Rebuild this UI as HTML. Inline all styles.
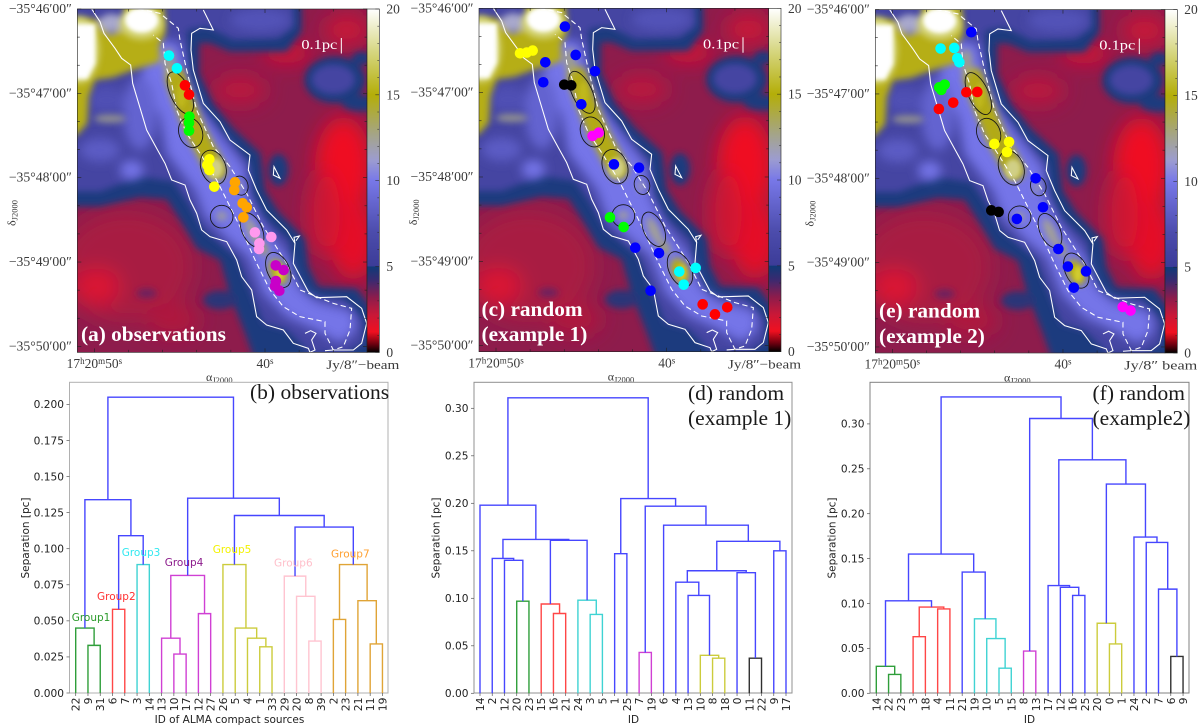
<!DOCTYPE html>
<html lang="en"><head><meta charset="utf-8"><title>Clustering of ALMA compact sources</title>
<style>
html,body{margin:0;padding:0;background:#fff;width:1200px;height:726px;overflow:hidden}
svg{display:block}
.serif{font-family:"Liberation Serif",serif}
.sans{font-family:"DejaVu Sans",sans-serif}
</style></head><body>
<svg id="fig" width="1200" height="726" viewBox="0 0 1200 726" xmlns="http://www.w3.org/2000/svg">
<defs>
<clipPath id="mapclip"><rect x="232" y="27" width="869" height="1030"/></clipPath>
<filter id="b6" filterUnits="userSpaceOnUse" x="0" y="-200" width="1400" height="1500"><feGaussianBlur stdDeviation="6"/></filter>
<filter id="b10" filterUnits="userSpaceOnUse" x="0" y="-200" width="1400" height="1500"><feGaussianBlur stdDeviation="10"/></filter>
<filter id="b16" filterUnits="userSpaceOnUse" x="0" y="-200" width="1400" height="1500"><feGaussianBlur stdDeviation="16"/></filter>
<filter id="b30" filterUnits="userSpaceOnUse" x="0" y="-200" width="1400" height="1500"><feGaussianBlur stdDeviation="30"/></filter>
<linearGradient id="cbar" x1="0" y1="1" x2="0" y2="0"></linearGradient>
<g id="map" clip-path="url(#mapclip)">
 <rect x="150" y="-50" width="1050" height="1200" fill="#8e1c4c"/>
 <g filter="url(#b30)">
  <ellipse cx="380" cy="800" rx="200" ry="170" fill="#a81a42"/>
  <ellipse cx="290" cy="860" rx="70" ry="55" fill="#dc1230"/>
  <ellipse cx="520" cy="960" rx="80" ry="50" fill="#b0183c"/>
  <ellipse cx="1030" cy="500" rx="85" ry="150" fill="#f00f22"/>
  <ellipse cx="1060" cy="720" rx="70" ry="120" fill="#e61028"/>
  <ellipse cx="970" cy="640" rx="50" ry="130" fill="#cc1434"/>
  <ellipse cx="860" cy="160" rx="75" ry="30" fill="#d81030"/>
  <ellipse cx="720" cy="270" rx="80" ry="45" fill="#bc183c"/>
  <ellipse cx="1040" cy="90" rx="70" ry="50" fill="#c81838"/>
  <ellipse cx="1090" cy="990" rx="35" ry="60" fill="#cc1434"/>
 </g>
 <g filter="url(#b10)" fill="#1a3a7e">
  <polygon points="150,-50 905,-50 905,95 860,155 690,155 630,130 598,130 598,220 640,310 700,385 782,460 795,570 835,635 915,715 925,800 955,860 1070,865 1135,950 1135,1100 770,1100 735,1000 690,885 660,780 590,745 540,660 500,598 420,592 300,620 150,620"/>
  <ellipse cx="1005" cy="240" rx="92" ry="70"/>
  <ellipse cx="1085" cy="310" rx="60" ry="24"/>
  <ellipse cx="660" cy="900" rx="50" ry="28" fill="#2a3678"/>
  <ellipse cx="835" cy="510" rx="30" ry="48"/>
  <ellipse cx="1085" cy="175" rx="30" ry="20"/>
  <ellipse cx="440" cy="880" rx="30" ry="14" fill="#6a2460"/>
 </g>
 <g filter="url(#b10)" fill="#4444a2">
  <polygon points="150,-50 880,-50 880,80 835,115 700,120 620,80 562,90 562,220 602,320 662,395 745,485 755,580 790,650 870,725 870,800 920,890 1030,895 1090,960 1090,1030 1040,1060 930,1060 860,990 790,970 745,860 710,770 660,730 610,690 565,610 520,545 420,530 300,575 150,575"/>
  <ellipse cx="1000" cy="238" rx="65" ry="45"/>
 </g>
 <g filter="url(#b16)" fill="#7474e8">
  <polygon points="440,110 540,130 565,240 605,330 675,425 735,500 745,590 790,680 865,770 895,860 950,905 1050,930 1070,990 1020,1030 950,990 860,950 790,880 745,770 680,715 615,650 585,570 500,460 480,340 420,250"/>
  <ellipse cx="320" cy="300" rx="60" ry="40" fill="#5050b4"/>
  <ellipse cx="395" cy="510" rx="35" ry="28"/>
  <ellipse cx="300" cy="450" rx="60" ry="35" fill="#5c5cc4"/>
  <ellipse cx="420" cy="340" rx="50" ry="110" fill="#6464d0"/>
  <ellipse cx="1020" cy="960" rx="45" ry="35"/>
  <ellipse cx="780" cy="60" rx="90" ry="34" fill="#5252b8"/>
 </g>
 <g filter="url(#b10)">
  <polygon points="150,50 296,58 330,105 372,80 372,-50 488,-50 496,100 478,135 480,185 400,210 340,232 285,240 266,290 262,370 232,405 150,412" fill="#b6ae18"/>
  <polyline points="525,230 548,295 590,400 650,510" fill="none" stroke="#b2aa18" stroke-width="60" stroke-linecap="round"/>
  <ellipse cx="835" cy="815" rx="24" ry="40" fill="#b8b010" transform="rotate(-25 835 815)"/>
  <ellipse cx="505" cy="185" rx="18" ry="40" fill="#a8a67a" opacity=".8"/>
  <ellipse cx="665" cy="648" rx="16" ry="13" fill="#a8a68c" opacity=".85"/>
  <ellipse cx="758" cy="695" rx="15" ry="45" fill="#a8a68c" opacity=".9" transform="rotate(-25 758 695)"/>
  <ellipse cx="790" cy="745" rx="12" ry="24" fill="#b0ac50" opacity=".8" transform="rotate(-25 790 745)"/>
  <ellipse cx="718" cy="560" rx="10" ry="18" fill="#a4a2a0" opacity=".8"/>
  <ellipse cx="330" cy="356" rx="48" ry="12" fill="#a8a68c" opacity=".8"/>
  <ellipse cx="335" cy="68" rx="38" ry="26" fill="#a8a8cc"/>
 </g>
 <g filter="url(#b6)">
  <ellipse cx="645" cy="505" rx="24" ry="30" fill="#d0cf86"/>
  <ellipse cx="545" cy="285" rx="14" ry="38" fill="#c0b81e"/>
  <ellipse cx="840" cy="820" rx="13" ry="24" fill="#d2cc30"/>
 </g>
 <g filter="url(#b10)" fill="#d6d67c">
  <ellipse cx="238" cy="150" rx="60" ry="100"/>
  <ellipse cx="425" cy="70" rx="66" ry="48"/>
 </g>
 <g filter="url(#b6)" fill="#ffffff">
  <polygon points="150,72 286,72 286,190 262,237 150,237"/>
  <ellipse cx="425" cy="60" rx="50" ry="38"/>
 </g>
 <g fill="none" stroke="#ffffff" stroke-width="3.2">
  <polyline points="275,27 300,65 312,100 345,145 365,175 392,195 398,250 410,290 425,340 440,390 470,445 495,490 515,540 555,555 570,600 590,640 605,690 630,710 680,725 710,780 725,830 755,870 770,950 800,975 850,990 880,1030 925,1045 930,1057"/>
  <polyline points="610,30 640,90 600,85 575,100 573,150 580,210 610,310 660,365 690,420 750,465 745,510 770,570 800,630 860,690 885,730 880,790 925,875 950,893 1040,890 1085,925 1100,970 1085,1030 1060,1050 1000,1050 975,1052"/>
  <polygon points="822,500 840,535 820,525"/>
  <polyline points="885,730 882,712 898,708 888,722"/>
  <polyline points="915,1000 932,992 948,1000 935,1020 945,1050 930,1057"/>
  <g stroke-dasharray="16 10">
   <polyline points="415,27 480,40 535,85 540,120 560,210 590,330 640,440 690,500 740,580 790,680 860,790 900,870 1000,910 1055,925 1050,990 1030,1040 1000,1050 975,1000 975,965 900,950 850,920 810,870 770,790 720,680 680,600 650,540 600,460 560,400 530,330 515,250 495,190 490,130 460,105"/>
  </g>
 </g>
 <g fill="none" stroke="#151515" stroke-width="2.6">
  <ellipse cx="541" cy="279" rx="30" ry="68" transform="rotate(-25 541 279)"/>
  <ellipse cx="572" cy="398" rx="35" ry="46" transform="rotate(-20 572 398)"/>
  <ellipse cx="640" cy="502" rx="37" ry="53" transform="rotate(-20 640 502)"/>
  <ellipse cx="721" cy="557" rx="23" ry="29" transform="rotate(-15 721 557)"/>
  <ellipse cx="665" cy="650" rx="34" ry="34"/>
  <ellipse cx="756" cy="690" rx="30" ry="55" transform="rotate(-25 756 690)"/>
  <ellipse cx="835" cy="810" rx="33" ry="56" transform="rotate(-25 835 810)"/>
 </g>
</g>
</defs>

<g id="mapA"><use href="#map" transform="translate(77.33,9) scale(.33333) translate(-232,-27)"/></g>
<g id="mapC"><use href="#map" transform="translate(479,8.3) scale(.33333) translate(-232,-27)"/></g>
<g id="mapE"><use href="#map" transform="translate(875.3,9.6) scale(.33333) translate(-232,-27)"/></g>
<g id="overlay"></g>

<g class="serif" font-weight="bold" font-size="21.3" fill="#fff">
 <text x="81" y="341">(a) observations</text>
 <text x="481.5" y="316">(c) random</text>
 <text x="481.5" y="341">(example 1)</text>
 <text x="879" y="317.5">(e) random</text>
 <text x="879" y="343">(example 2)</text>
</g>

<g id="dendros"></g>

<g class="serif" font-size="21.5" fill="#1a1a1a">
 <text x="250" y="399">(b) observations</text>
 <text x="688" y="400">(d) random</text>
 <text x="688" y="425">(example 1)</text>
 <text x="1092.5" y="400">(f) random</text>
 <text x="1092.5" y="425">(example2)</text>
</g>

<g class="sans" font-size="10.5">
 <text x="71.7" y="621" fill="#2a9a2a">Group1</text>
 <text x="97" y="600" fill="#ff3030">Group2</text>
 <text x="121.7" y="556" fill="#30e8f0">Group3</text>
 <text x="164.7" y="566" fill="#8b1a8b">Group4</text>
 <text x="212.7" y="553" fill="#f2f200">Group5</text>
 <text x="274" y="566.7" fill="#ffc0cb">Group6</text>
 <text x="331" y="557.7" fill="#ffa030">Group7</text>
</g>
</svg>

<script>
// ---- colour legend values ----
const cbarValues = [0, 0.5, 1.2, 2.2, 3.2, 4.2, 5, 5.02, 7, 10, 11.2, 12.6, 15, 17.5, 20];
const cbarColors = ['#000000', '#700010', '#f01020', '#c81838', '#8c1c4c', '#3a2a70', '#0f3a78', '#3c3c98', '#4c4cac', '#7878e8', '#9c9cd0', '#a4a48c', '#b4ae08', '#d6d680', '#ffffff'];
const cbarTicks = [0, 5, 10, 15, 20];
// ---- map axis tick labels ----
const decLabels = ['\u221235\u00b046\u203200\u2033', '\u221235\u00b047\u203200\u2033', '\u221235\u00b048\u203200\u2033', '\u221235\u00b049\u203200\u2033', '\u221235\u00b050\u203200\u2033'];
// ---- source positions: [RA seconds west of 17h20m50s, Dec arcsec south of -35d46m00s] ----
const obsCyan = [[4.375,33.2],[4.84,42.2]];
const obsRed = [[5.31,54.3],[5.55,60.9]];
const obsGreen = [[5.57,76.6],[5.55,80.9],[5.55,86.6]];
const obsYellow = [[6.74,106.9],[6.74,114.5],[6.62,111],[7.03,126.4]];
const obsOrange = [[8.24,123.3],[8.2,128.8],[8.69,138.2],[8.93,141.1],[8.73,148.2]];
const obsPink = [[9.41,158.9],[9.67,166.7],[9.65,170.7],[10.37,162.2]];
const obsMagenta = [[10.63,182.4],[11.09,185.7],[10.64,193.5],[10.59,197.1],[10.84,200.4]];
const r1Blue = [[4.04,13],[4.67,33.2],[2.89,38.4],[5.8,44.8],[2.77,52.6],[5,68.3],[6.91,111],[8.38,113.4],[8.16,170.3],[9.55,174.1],[9.06,200.9]];
const r1Yellow = [[1.41,32],[1.8,31.5],[2.15,30.1]];
const r1Black = [[4,54.3],[4.41,54.8]];
const r1Magenta = [[5.66,90.8],[6.02,88.5]];
const r1Green = [[6.68,148.7],[7.48,155.6]];
const r1Cyan = [[10.74,187.3],[11.7,184.7],[11,196.6]];
const r1Red = [[12.11,210.6],[13.55,212.7],[12.83,217.7]];
const r2Blue = [[4.63,16.1],[8.4,120],[8.83,140.6],[7.3,148.9],[9.73,170.3],[10.29,182.8],[11.35,186.2],[10.64,197.8]];
const r2Cyan = [[2.83,27.7],[3.63,27.3],[3.81,34.6],[3.93,37.5]];
const r2Green = [[3.07,53.4],[2.87,57.1],[2.75,55.3]];
const r2Red = [[4.34,58.8],[4.98,58.6],[3.57,66.2],[2.73,70.7]];
const r2Yellow = [[5.98,95.6],[6.84,94.1],[6.72,101.3]];
const r2Black = [[5.8,142.8],[6.23,143.9]];
const r2Magenta = [[13.5,211.5],[13.96,214.1]];
// ---- dendrogram data: leaf labels, and merges [child a, child b, separation, colour key] (ids >= leaves.length refer to earlier merges) ----
const leavesB = ['22','9','31','6','7','3','14','13','10','17','12','27','26','5','4','1','33','29','20','8','39','2','23','21','11','19'];
const mergesB = [[1,2,.033,'g'],[0,26,.045,'g'],[3,4,.058,'r'],[5,6,.089,'c'],[28,29,.109,'b'],[27,30,.134,'b'],[8,9,.027,'m'],[7,32,.038,'m'],[10,11,.055,'m'],[33,34,.0815,'m'],[15,16,.032,'y'],[14,36,.038,'y'],[13,37,.045,'y'],[12,38,.089,'y'],[19,20,.036,'p'],[18,40,.067,'p'],[17,41,.081,'p'],[21,22,.051,'o'],[24,25,.034,'o'],[23,44,.064,'o'],[43,45,.089,'o'],[42,46,.115,'b'],[39,47,.123,'b'],[35,48,.135,'b'],[31,49,.205,'b']];
const ticksB = [0,.025,.05,.075,.1,.125,.15,.175,.2];
const leavesD = ['14','2','12','20','23','15','16','21','24','3','5','1','25','7','19','6','4','13','10','8','18','0','11','22','9','17'];
const mergesD = [[3,4,.097,'g'],[2,26,.14,'b'],[1,27,.142,'b'],[6,7,.084,'r'],[5,29,.094,'r'],[9,10,.083,'c'],[8,31,.098,'c'],[30,32,.161,'b'],[28,33,.162,'b'],[0,34,.198,'b'],[11,12,.147,'b'],[13,14,.043,'m'],[19,20,.037,'y'],[18,38,.04,'y'],[17,39,.103,'b'],[16,40,.117,'b'],[22,23,.037,'k'],[21,42,.127,'b'],[41,43,.129,'b'],[24,25,.15,'b'],[44,45,.16,'b'],[15,46,.177,'b'],[37,47,.197,'b'],[36,48,.205,'b'],[35,49,.311,'b']];
const ticksD = [0,.05,.1,.15,.2,.25,.3];
const leavesF = ['14','22','23','3','18','4','11','21','19','10','5','15','8','13','17','12','16','25','20','0','1','24','2','7','6','9'];
const mergesF = [[1,2,.021,'g'],[0,26,.03,'g'],[3,4,.063,'r'],[5,6,.094,'r'],[28,29,.096,'r'],[27,30,.103,'b'],[10,11,.028,'c'],[9,32,.061,'c'],[8,33,.083,'c'],[7,34,.135,'b'],[31,35,.155,'b'],[12,13,.047,'m'],[16,17,.109,'b'],[15,38,.118,'b'],[14,39,.12,'b'],[19,20,.055,'y'],[18,41,.078,'y'],[24,25,.041,'k'],[23,43,.116,'b'],[22,44,.168,'b'],[21,45,.174,'b'],[42,46,.233,'b'],[40,47,.26,'b'],[37,48,.306,'b'],[36,49,.33,'b']];
const ticksF = [0,.05,.1,.15,.2,.25,.3];

const NS = 'http://www.w3.org/2000/svg';
function mk(parent, tag, attrs, txt) {
  const el = document.createElementNS(NS, tag);
  for (const k in attrs) el.setAttribute(k, attrs[k]);
  if (txt !== undefined) el.textContent = txt;
  parent.appendChild(el);
  return el;
}

// colour bar gradient
const grad = document.getElementById('cbar');
cbarValues.forEach(function (v, i) {
  mk(grad, 'stop', {offset: (v / 20), 'stop-color': cbarColors[i]});
});

const overlay = document.getElementById('overlay');
const panels = [
  {x: 77.33, y: 9, unit: 'Jy/8\u2033\u2212beam', series: [[obsCyan,'#00ffff'],[obsRed,'#ff0000'],[obsGreen,'#00ff00'],[obsYellow,'#ffff00'],[obsOrange,'#ffa500'],[obsPink,'#ff99ee'],[obsMagenta,'#c800c8']]},
  {x: 479, y: 8.3, unit: 'Jy/8\u2033\u2212beam', series: [[r1Blue,'#0000ff'],[r1Yellow,'#ffff00'],[r1Black,'#000000'],[r1Magenta,'#ff00ff'],[r1Green,'#00ff00'],[r1Cyan,'#00ffff'],[r1Red,'#ff0000']]},
  {x: 875.3, y: 9.6, unit: 'Jy/8\u2033 beam', series: [[r2Blue,'#0000ff'],[r2Cyan,'#00ffff'],[r2Green,'#00ff00'],[r2Red,'#ff0000'],[r2Yellow,'#ffff00'],[r2Black,'#000000'],[r2Magenta,'#ff00ff']]}
];
const MAPW = 289.7, MAPH = 343.4, SERIF = '"Liberation Serif",serif', INK = '#3a3a3a';

panels.forEach(function (p) {
  const g = mk(overlay, 'g', {});
  
  
  const raX = function (s) { return p.x + 17 + 17.067 * s; };
  const decY = function (a) { return p.y + a * 1.4057; };
  const cbY = function (v) { return p.y + (20 - v) / 20 * MAPH; };

  // sources
  p.series.forEach(function (s) {
    s[0].forEach(function (pt) {
      const c = mk(g, 'circle', {cx: raX(pt[0]), cy: decY(pt[1]), r: 5.3, fill: s[1]});
      
      
    });
  });

  // frame and ticks
  const fr = mk(g, 'rect', {x: p.x, y: p.y, width: MAPW, height: MAPH, fill: 'none', stroke: '#222', 'stroke-width': 0.6});
  
  
  for (let k = 0; k <= 12; k++) {
    const yy = decY(k * 20), len = k % 3 === 0 ? 4 : 2.5;
    mk(g, 'line', {x1: p.x, x2: p.x + len, y1: yy, y2: yy, stroke: '#222', 'stroke-width': 0.6});
    mk(g, 'line', {x1: p.x + MAPW, x2: p.x + MAPW - len, y1: yy, y2: yy, stroke: '#222', 'stroke-width': 0.6});
  }
  for (let k = 0; k <= 8; k++) {
    const xx = raX(k * 2), len = k % 5 === 0 ? 4 : 2.5;
    mk(g, 'line', {x1: xx, x2: xx, y1: p.y + MAPH, y2: p.y + MAPH - len, stroke: '#222', 'stroke-width': 0.6});
    mk(g, 'line', {x1: xx, x2: xx, y1: p.y, y2: p.y + len, stroke: '#222', 'stroke-width': 0.6});
  }

  // colour bar
  const cb = mk(g, 'rect', {x: p.x + MAPW, y: p.y, width: 12.3, height: MAPH, fill: 'url(#cbar)', stroke: '#222', 'stroke-width': 0.6});
  
  
  for (let v = 0; v <= 20; v++) {
    const len = v % 5 === 0 ? 4 : 2;
    mk(g, 'line', {x1: p.x + MAPW + 12.3, x2: p.x + MAPW + 12.3 - len, y1: cbY(v), y2: cbY(v), stroke: '#222', 'stroke-width': 0.5});
  }
  cbarTicks.forEach(function (v) {
    const t = mk(g, 'text', {x: p.x + 309, y: cbY(v) + 4.5, 'font-family': SERIF, 'font-size': 13.5, fill: INK}, String(v));
    
    
  });

  // declination labels
  decLabels.forEach(function (lab, i) {
    const t = mk(g, 'text', {x: p.x - 5.5, y: decY(i * 60) + 4, 'text-anchor': 'end', 'font-family': SERIF, 'font-size': 13.5, fill: INK, textLength: 63, lengthAdjust: 'spacingAndGlyphs'}, lab);
    
    
  });

  // right ascension labels
  const ra1 = mk(g, 'text', {x: p.x + 17, y: p.y + 359, 'text-anchor': 'middle', 'font-family': SERIF, 'font-size': 13.5, fill: INK});
  
  
  mk(ra1, 'tspan', {}, '17');
  mk(ra1, 'tspan', {dy: -4, 'font-size': 9}, 'h');
  mk(ra1, 'tspan', {dy: 4}, '20');
  mk(ra1, 'tspan', {dy: -4, 'font-size': 9}, 'm');
  mk(ra1, 'tspan', {dy: 4}, '50');
  mk(ra1, 'tspan', {dy: -4, 'font-size': 9}, 's');
  const ra2 = mk(g, 'text', {x: p.x + 187.7, y: p.y + 359, 'text-anchor': 'middle', 'font-family': SERIF, 'font-size': 13.5, fill: INK});
  
  
  mk(ra2, 'tspan', {}, '40');
  mk(ra2, 'tspan', {dy: -4, 'font-size': 9}, 's');

  // unit and axis titles
  const u = mk(g, 'text', {x: p.x + 249, y: p.y + 360, 'font-family': SERIF, 'font-size': 13, fill: INK, textLength: 73, lengthAdjust: 'spacingAndGlyphs'}, p.unit);
  
  
  const ax = mk(g, 'text', {x: p.x + 128.7, y: p.y + 372, 'font-family': SERIF, 'font-size': 12, fill: INK});
  
  
  mk(ax, 'tspan', {}, '\u03b1');
  mk(ax, 'tspan', {dy: 2, 'font-size': 8.5}, 'J2000');
  const ay = mk(g, 'text', {x: 0, y: 0, transform: 'translate(' + (p.x - 62) + ',' + (p.y + 204) + ') rotate(-90)', 'text-anchor': 'middle', 'font-family': SERIF, 'font-size': 12, fill: INK});
  
  
  mk(ay, 'tspan', {}, '\u03b4');
  mk(ay, 'tspan', {dy: 2, 'font-size': 8.5}, 'J2000');

  // scale bar
  const sb = mk(g, 'text', {x: p.x + 224, y: p.y + 40, 'font-family': SERIF, 'font-size': 13.5, fill: '#fff', textLength: 36, lengthAdjust: 'spacingAndGlyphs'}, '0.1pc');
  
  
  const sl = mk(g, 'line', {x1: p.x + 264, x2: p.x + 264, y1: p.y + 29, y2: p.y + 44.5, stroke: '#fff', 'stroke-width': 1});
  
  
});

// dendrograms
const LINK = {g: '#2f9e3a', r: '#ff4646', c: '#3fd3d3', m: '#d040d4', y: '#cccc3c', p: '#ffc4d0', o: '#e0a436', k: '#303030', b: '#4646ff'};
const dendroPanels = [
  {name: 'b', left: 69.5, right: 388, top: 382.3, bottom: 693, y0: 693, pxPerUnit: 1443, leaf0: 75.7, dx: 12.27, digits: 3, leaves: leavesB, merges: mergesB, ticks: ticksB, xTitle: 'ID of ALMA compact sources', xTitleX: 229.5, yTitleX: 29, frame: '#b0b0b0'},
  {name: 'd', left: 474, right: 792, top: 382.3, bottom: 693, y0: 693.3, pxPerUnit: 950, leaf0: 480, dx: 12.24, digits: 2, leaves: leavesD, merges: mergesD, ticks: ticksD, xTitle: 'ID', xTitleX: 633.5, yTitleX: 439.5, frame: '#909090'},
  {name: 'f', left: 870, right: 1189, top: 382.3, bottom: 693, y0: 693.3, pxPerUnit: 898, leaf0: 876.3, dx: 12.27, digits: 2, leaves: leavesF, merges: mergesF, ticks: ticksF, xTitle: 'ID', xTitleX: 1029.5, yTitleX: 835.5, frame: '#808080'}
];
const dendros = document.getElementById('dendros');
dendroPanels.forEach(function (d) {
  const g = mk(dendros, 'g', {});
  
  
  const xOf = function (i) { return d.leaf0 + d.dx * i; };
  const yOf = function (v) { return d.y0 - d.pxPerUnit * v; };

  const fr = mk(g, 'rect', {x: d.left, y: d.top, width: d.right - d.left, height: d.bottom - d.top, fill: '#fff', stroke: d.frame, 'stroke-width': 1});
  
  

  const n = d.leaves.length;
  const nx = [], ny = [];
  d.leaves.forEach(function (lab, i) {
    nx[i] = xOf(i);
    ny[i] = 0;
    mk(g, 'line', {x1: xOf(i), x2: xOf(i), y1: d.bottom, y2: d.bottom + 3, stroke: '#555', 'stroke-width': 0.7});
    const t = mk(g, 'text', {transform: 'translate(' + (xOf(i) + 4) + ',697.5) rotate(-90)', 'text-anchor': 'end', 'font-family': '"DejaVu Sans",sans-serif', 'font-size': 10.8, fill: '#222'}, lab);
    
    
  });
  d.merges.forEach(function (m, k) {
    const a = m[0], b = m[1], h = m[2];
    const id = n + k;
    nx[id] = (nx[a] + nx[b]) / 2;
    ny[id] = h;
    const pts = [[nx[a], yOf(ny[a])], [nx[a], yOf(h)], [nx[b], yOf(h)], [nx[b], yOf(ny[b])]].map(function (q) { return q[0].toFixed(2) + ',' + q[1].toFixed(2); }).join(' ');
    const l = mk(g, 'polyline', {points: pts, fill: 'none', stroke: LINK[m[3]], 'stroke-width': 1.4});
    
    
  });
  d.ticks.forEach(function (v) {
    mk(g, 'line', {x1: d.left - 3, x2: d.left, y1: yOf(v), y2: yOf(v), stroke: '#555', 'stroke-width': 0.7});
    const t = mk(g, 'text', {x: d.left - 5.5, y: yOf(v) + 3.8, 'text-anchor': 'end', 'font-family': '"DejaVu Sans",sans-serif', 'font-size': 10.6, fill: '#222'}, v.toFixed(d.digits));
    
    
  });
  const yt = mk(g, 'text', {transform: 'translate(' + d.yTitleX + ',538) rotate(-90)', 'text-anchor': 'middle', 'font-family': '"DejaVu Sans",sans-serif', 'font-size': 10.5, fill: '#222'}, 'Separation [pc]');
  
  
  const xt = mk(g, 'text', {x: d.xTitleX, y: 723, 'text-anchor': 'middle', 'font-family': '"DejaVu Sans",sans-serif', 'font-size': 10.5, fill: '#222'}, d.xTitle);
  
  
});
</script>
</body></html>
